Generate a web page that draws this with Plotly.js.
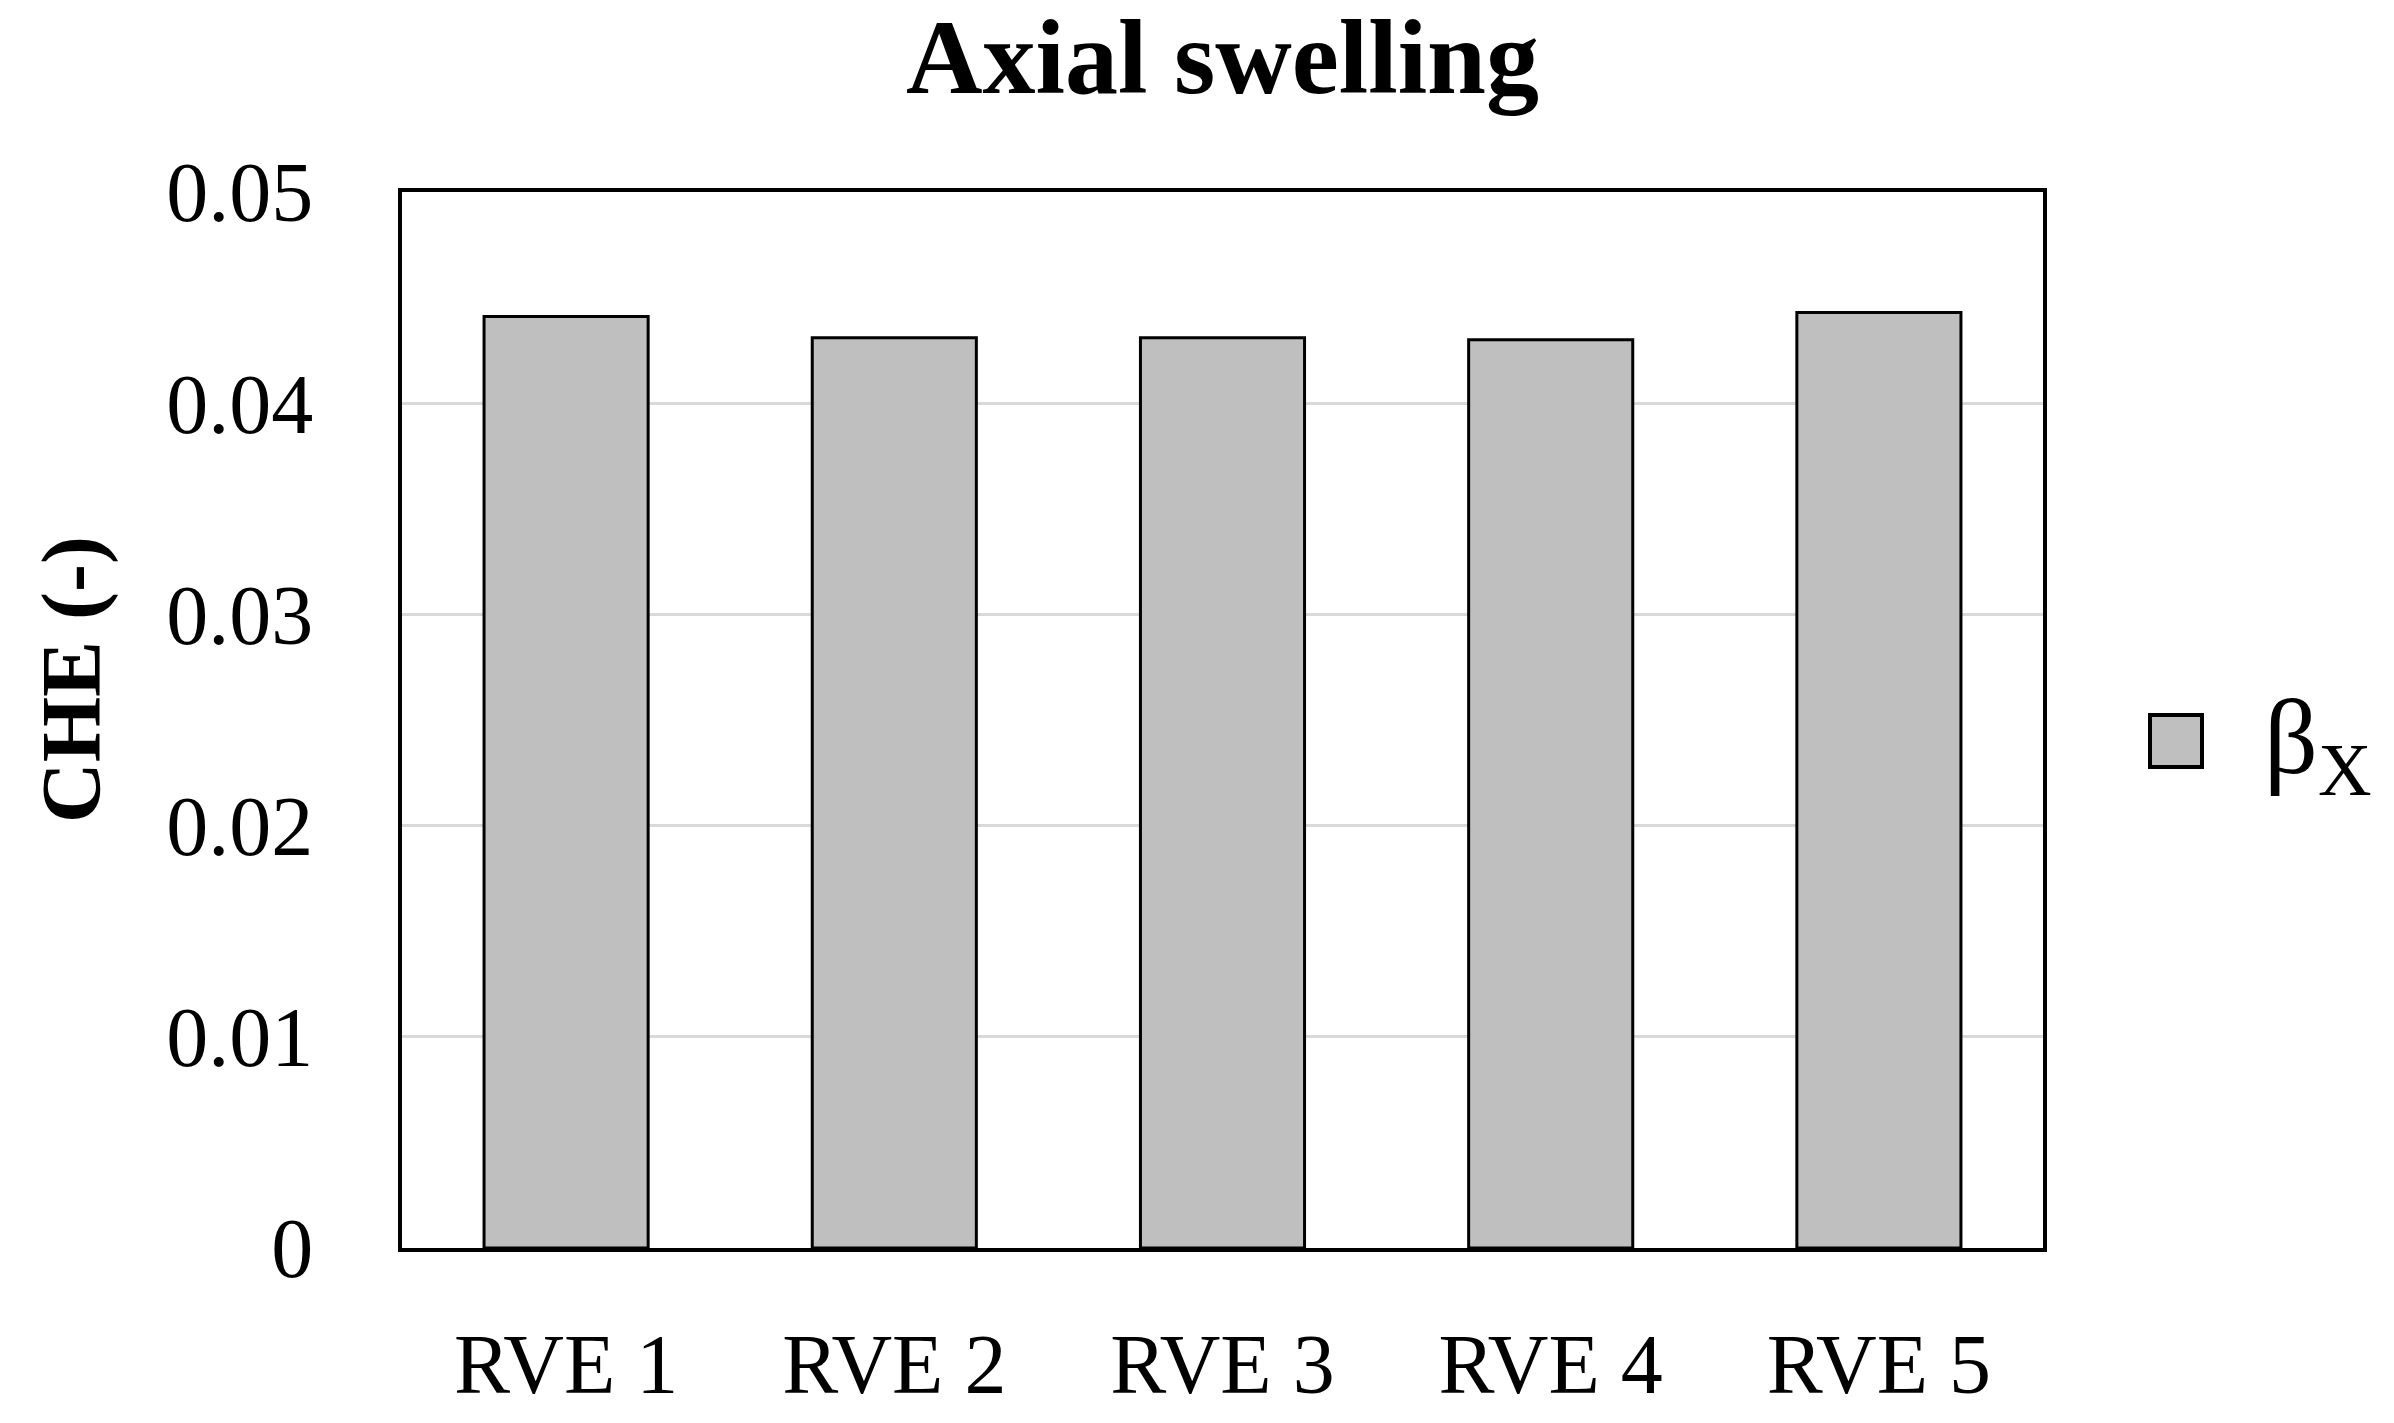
<!DOCTYPE html>
<html>
<head>
<meta charset="utf-8">
<script src="https://cdn.plot.ly/plotly-3.0.1.min.js"></script>
<style>
  html, body { margin: 0; padding: 0; background: #fff; }
  #chart { width: 2394px; height: 1423px; }
</style>
</head>
<body>
<div id="chart"></div>
<script>
// values
const categories = ['RVE 1', 'RVE 2', 'RVE 3', 'RVE 4', 'RVE 5'];
const betaX = [0.0441, 0.0431, 0.0431, 0.0430, 0.0443];
const yTicks = [0, 0.01, 0.02, 0.03, 0.04, 0.05];
const yTickText = ['0', '0.01', '0.02', '0.03', '0.04', '0.05'];

const serif = '"Liberation Serif", "DejaVu Serif", serif';
const barFill = '#bfbfbf';

const trace = {
  type: 'bar',
  x: categories,
  y: betaX,
  name: 'β<sub>X</sub>',
  marker: { color: barFill, line: { color: '#000', width: 3 } },
  showlegend: false,
  hoverinfo: 'skip'
};

// plot area in pixels, used to place the hand-made legend and y title
const plotW = 2394 - 402 - 351;
const plotH = 1423 - 192 - 175;

const layout = {
  width: 2394,
  height: 1423,
  margin: { l: 402, r: 351, t: 192, b: 175 },
  paper_bgcolor: '#fff',
  plot_bgcolor: '#fff',
  bargap: 0.5,
  title: {
    text: '<b>Axial swelling</b>',
    font: { family: serif, size: 106, color: '#000' },
    x: 0.5, xref: 'paper',
    y: 1 - 56 / 1423, yref: 'container', yanchor: 'middle'
  },
  xaxis: {
    type: 'category',
    showline: true, linecolor: '#000', linewidth: 4, mirror: true,
    ticks: '', showgrid: false,
    tickfont: { family: serif, size: 84, color: '#000' },
    ticklabelstandoff: 40
  },
  yaxis: {
    range: [0, 0.05],
    tickvals: yTicks,
    ticktext: yTickText,
    showline: true, linecolor: '#000', linewidth: 4, mirror: true,
    ticks: '',
    showgrid: true, gridcolor: '#d9d9d9', gridwidth: 3,
    zeroline: false,
    tickfont: { family: serif, size: 84, color: '#000' },
    ticklabelstandoff: 68
  },
  // legend drawn as a large swatch + label, like the original
  shapes: [{
    type: 'rect', xref: 'paper', yref: 'paper',
    x0: (2150 - 402) / plotW, x1: (2202 - 402) / plotW,
    y0: (1248 - 767) / plotH, y1: (1248 - 715) / plotH,
    fillcolor: barFill, line: { color: '#000', width: 4 }
  }],
  annotations: [{
    xref: 'paper', yref: 'paper',
    x: (2262 - 402) / plotW, y: (1248 - 745) / plotH,
    xanchor: 'left', yanchor: 'middle',
    text: 'β<sub>X</sub>', showarrow: false,
    font: { family: serif, size: 106, color: '#000' }
  }, {
    xref: 'paper', yref: 'paper',
    x: (72 - 402) / plotW, y: (1248 - 680) / plotH,
    xanchor: 'center', yanchor: 'middle',
    textangle: -90,
    text: '<b>CHE (-)</b>', showarrow: false,
    font: { family: serif, size: 84, color: '#000' }
  }]
};

Plotly.newPlot('chart', [trace], layout, { displayModeBar: false, staticPlot: true });
</script>
</body>
</html>
